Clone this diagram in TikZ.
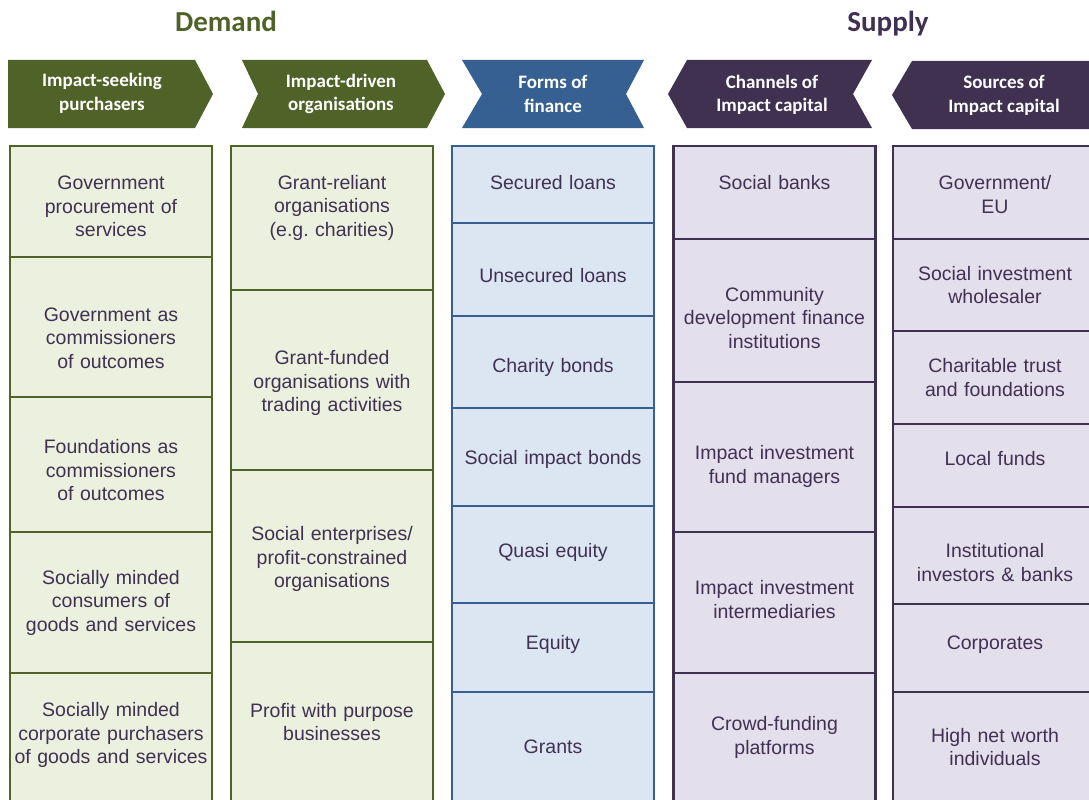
\documentclass[tikz,border=0pt]{standalone}
\usepackage{fontspec}
\setmainfont{Liberation Sans}
\newfontfamily\headfont{Carlito}
\usetikzlibrary{positioning}
\definecolor{dgreen}{HTML}{4F6228}
\definecolor{lgreen}{HTML}{EBF1DE}
\definecolor{dblue}{HTML}{376092}
\definecolor{lblue}{HTML}{DCE6F2}
\definecolor{dpurple}{HTML}{403151}
\definecolor{lpurple}{HTML}{E4DFEC}
\definecolor{celltext}{HTML}{403152}
\tikzstyle{cell}=[rectangle, line width=1.8pt, text centered, anchor=north, text=celltext,
        text width=200pt, minimum width=202pt, inner sep=0pt, outer sep=0pt,
        font=\fontsize{19.5}{23.5}\selectfont]
\tikzstyle{greencell}=[cell, draw=dgreen, fill=lgreen]
\tikzstyle{bluecell}=[cell, draw=dblue, fill=lblue]
\tikzstyle{purplecell}=[cell, draw=dpurple, fill=lpurple]
\tikzstyle{headtext}=[align=center, text=white, font=\headfont\bfseries\fontsize{19}{23.5}\selectfont]
\tikzstyle{title}=[anchor=base, font=\headfont\bfseries\fontsize{29}{34}\selectfont]

\begin{document}
\begin{tikzpicture}[x=1pt, y=-1pt]
        \useasboundingbox (0,0) rectangle (1089,800);
        \clip (0,0) rectangle (1089,800);

        \node (Demand) [title, text=dgreen] at (226,32) {Demand};
        \node (Supply) [title, text=dpurple] at (888,32) {Supply};

        \fill[dgreen] (8,60) -- (195,60) -- (213,94) -- (195,128) -- (8,128) -- cycle;
        \node (Purchasers) [headtext] at (102,93.5) {Impact-seeking\\purchasers};
        \fill[dgreen] (242,60) -- (427,60) -- (445,94) -- (427,128) -- (242,128) -- (258,94) -- cycle;
        \node (Organisations) [headtext] at (341,94) {Impact-driven\\organisations};
        \fill[dblue] (462,60) -- (644,60) -- (626,94) -- (644,128) -- (462,128) -- (482,94) -- cycle;
        \node (Forms) [headtext] at (553,94) {Forms of\\finance};
        \fill[dpurple] (687,60) -- (872,60) -- (853,94) -- (872,128) -- (687,128) -- (668,94) -- cycle;
        \node (Channels) [headtext] at (772,95) {Channels of\\Impact capital};
        \fill[dpurple] (912,61) -- (1100,61) -- (1100,129) -- (912,129) -- (892,95) -- cycle;
        \node (Sources) [headtext] at (1004,95.5) {Sources of\\Impact capital};

        \node (GovProcurement) [greencell, minimum height=111pt, text height=24pt] at (111,146)
        {Government\\procurement of\\services};
        \node (GovCommissioners) [greencell, minimum height=140pt, text height=36pt, below=0pt of GovProcurement]
        {Government as\\commissioners\\of outcomes};
        \node (FoundCommissioners) [greencell, minimum height=135pt, text height=26pt, below=0pt of GovCommissioners]
        {Foundations as\\commissioners\\of outcomes};
        \node (Consumers) [greencell, minimum height=141pt, below=0pt of FoundCommissioners]
        {Socially minded\\consumers of\\goods and services};
        \node (Corporate) [greencell, minimum height=129pt, text height=10pt, below=0pt of Consumers]
        {Socially minded\\corporate purchasers\\of goods and services};
        \draw[dgreen, line width=2.6pt] (GovProcurement.north west) rectangle (Corporate.south east);

        \node (GrantReliant) [greencell, minimum height=144pt, text height=20pt] at (332,146)
        {Grant-reliant\\organisations\\(e.g.\ charities)\\\strut};
        \node (GrantFunded) [greencell, minimum height=180pt, text height=21pt, below=0pt of GrantReliant]
        {Grant-funded\\organisations with\\trading activities};
        \node (SocialEnterprises) [greencell, minimum height=172pt, text height=21pt, below=0pt of GrantFunded]
        {Social enterprises/\\profit-constrained\\organisations};
        \node (ProfitPurpose) [greencell, minimum height=160pt, below=0pt of SocialEnterprises]
        {Profit with purpose\\businesses};
        \draw[dgreen, line width=2.6pt] (GrantReliant.north west) rectangle (ProfitPurpose.south east);

        \node (SecuredLoans) [bluecell, minimum height=77pt, text height=10pt] at (553,146) {Secured loans};
        \node (UnsecuredLoans) [bluecell, minimum height=93pt, text height=26pt, below=0pt of SecuredLoans] {Unsecured loans};
        \node (CharityBonds) [bluecell, minimum height=92pt, text height=26pt, below=0pt of UnsecuredLoans] {Charity bonds};
        \node (ImpactBonds) [bluecell, minimum height=98pt, text height=20pt, below=0pt of CharityBonds] {Social impact bonds};
        \node (QuasiEquity) [bluecell, minimum height=97pt, text height=10pt, below=0pt of ImpactBonds] {Quasi equity};
        \node (Equity) [bluecell, minimum height=89pt, text height=8pt, below=0pt of QuasiEquity] {Equity};
        \node (Grants) [bluecell, minimum height=110pt, below=0pt of Equity] {Grants};
        \draw[dblue, line width=2.6pt] (SecuredLoans.north west) rectangle (Grants.south east);

        \node (SocialBanks) [purplecell, minimum height=93pt, text height=24pt] at (774.5,146) {Social banks\\\strut};
        \node (Cdfi) [purplecell, minimum height=143pt, text height=29pt, below=0pt of SocialBanks]
        {Community\\development finance\\institutions};
        \node (FundManagers) [purplecell, minimum height=150pt, text height=33pt, below=0pt of Cdfi]
        {Impact investment\\fund managers};
        \node (Intermediaries) [purplecell, minimum height=141pt, text height=8pt, below=0pt of FundManagers]
        {Impact investment\\intermediaries};
        \node (Crowdfunding) [purplecell, minimum height=129pt, below=0pt of Intermediaries]
        {Crowd-funding\\platforms};
        \draw[dpurple, line width=2.6pt] (SocialBanks.north west) rectangle (Crowdfunding.south east);

        \node (GovEU) [purplecell, minimum width=204pt, minimum height=93pt, text height=18pt] at (995,146)
        {Government/\\EU};
        \node (Wholesaler) [purplecell, minimum width=204pt, minimum height=92pt, below=0pt of GovEU]
        {Social investment\\wholesaler};
        \node (Trusts) [purplecell, minimum width=204pt, minimum height=93pt, below=0pt of Wholesaler]
        {Charitable trust\\and foundations};
        \node (LocalFunds) [purplecell, minimum width=204pt, minimum height=83pt, text height=0pt, below=0pt of Trusts]
        {Local funds};
        \node (Institutional) [purplecell, minimum width=204pt, minimum height=97pt, text height=28pt, below=0pt of LocalFunds]
        {Institutional\\investors \& banks};
        \node (Corporates) [purplecell, minimum width=204pt, minimum height=88pt, text height=8pt, below=0pt of Institutional]
        {Corporates};
        \node (HighNetWorth) [purplecell, minimum width=204pt, minimum height=110pt, below=0pt of Corporates]
        {High net worth\\individuals};
        \draw[dpurple, line width=2.6pt] (GovEU.north west) rectangle (HighNetWorth.south east);
\end{tikzpicture}
\end{document}
